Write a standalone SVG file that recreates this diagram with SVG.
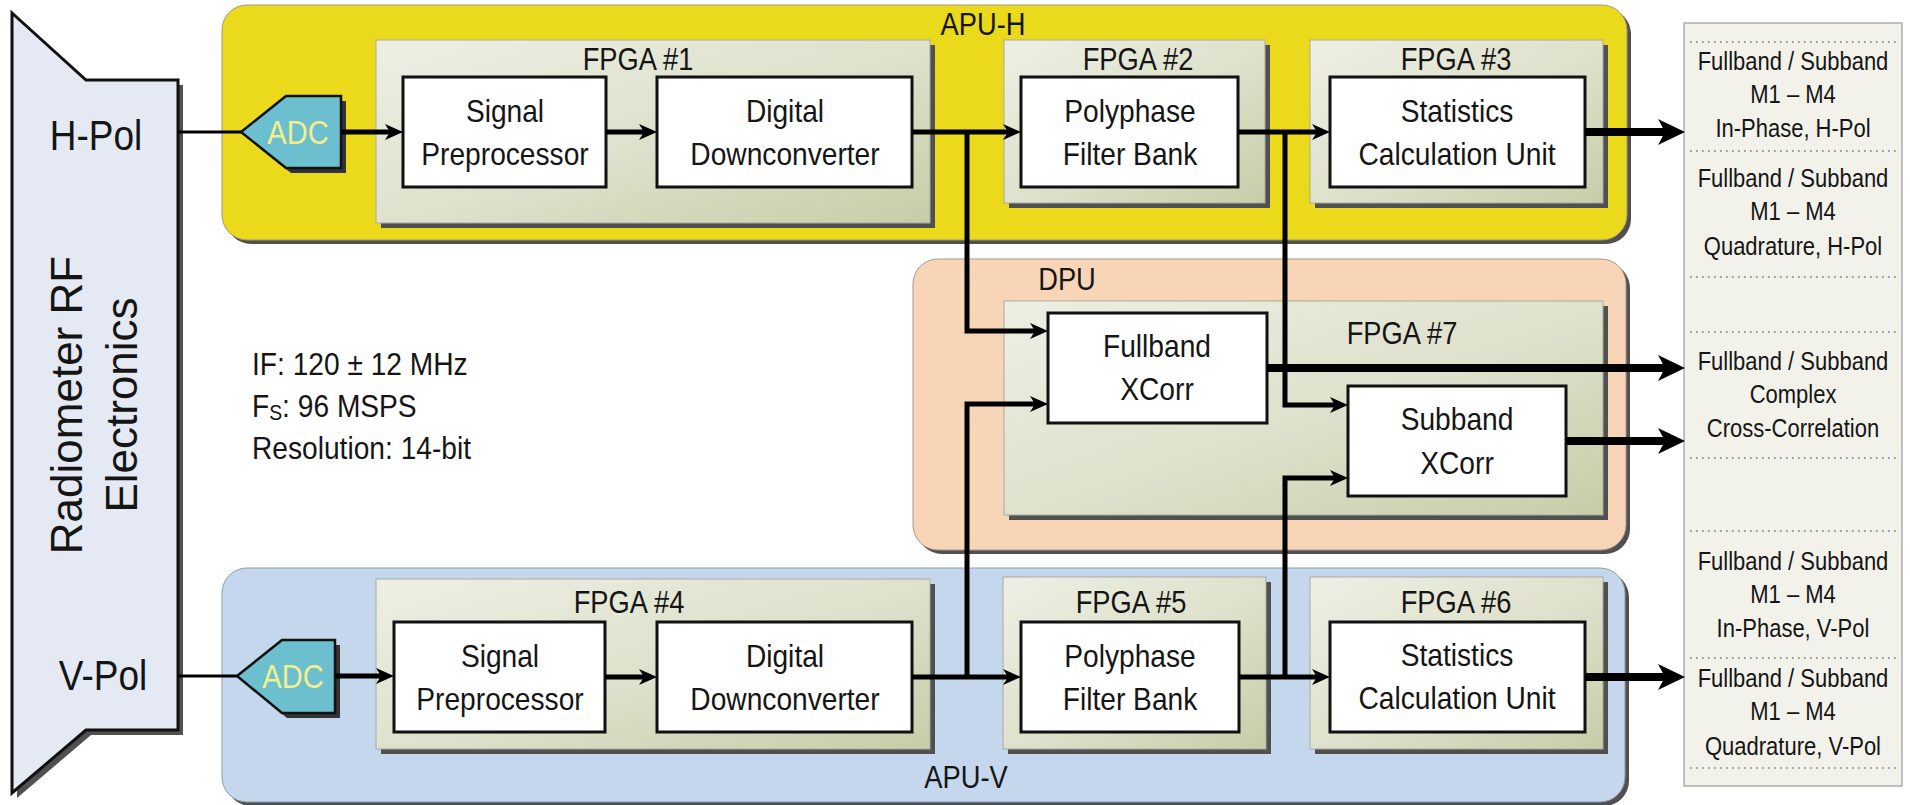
<svg xmlns="http://www.w3.org/2000/svg" width="1910" height="805" viewBox="0 0 1910 805">
<defs>
<style>
.t{font-family:"Liberation Sans",Arial,Helvetica,sans-serif;fill:#151515}
.m{text-anchor:middle}
.bx{font-size:32px}
.lb{font-size:31px}
.ot{font-size:25px}
.inner{fill:#fff;stroke:#111;stroke-width:3}
.fpga{fill:url(#gf);stroke:#a9aaa0;stroke-width:1}
.sh{fill:#505050}
.con{fill:none;stroke:#000;stroke-width:5}
.thk{fill:none;stroke:#000;stroke-width:8}
.thin{fill:none;stroke:#000;stroke-width:3}
.dot{stroke:#7a7a7a;stroke-width:1.6;stroke-dasharray:1.6 4.4}
.adc{fill:#6bbfcf;stroke:#111;stroke-width:2.5}
.adct{font-size:33px;fill:#f3ee8e}
</style>
<linearGradient id="gf" x1="0" y1="0" x2="1" y2="1">
<stop offset="0" stop-color="#eeefe4"/>
<stop offset="0.55" stop-color="#dde0ca"/>
<stop offset="1" stop-color="#c7cda8"/>
</linearGradient>
<marker id="ah" viewBox="0 -8 18 16" markerWidth="18" markerHeight="16" refX="8" refY="0" orient="auto" markerUnits="userSpaceOnUse">
<path d="M0,-8 L18,0 L0,8 L5,0 Z" fill="#000"/>
</marker>
<marker id="ahb" viewBox="0 -13 27 26" markerWidth="27" markerHeight="26" refX="13" refY="0" orient="auto" markerUnits="userSpaceOnUse">
<path d="M0,-13 L27,0 L0,13 L7,0 Z" fill="#000"/>
</marker>
</defs>
<rect width="1910" height="805" fill="#fff"/>

<g id="rf-electronics">
<polygon points="17,18 91,85 183,85 183,735 91,735 17,798" class="sh"/>
<polygon points="12,13 86,80 178,80 178,730 86,730 12,793" fill="#e4e9f4" stroke="#111" stroke-width="3"/>
<g transform="translate(0,405) rotate(-90)">
<text class="t m" x="0" y="82" font-size="44">Radiometer RF</text>
<text class="t m" x="0" y="137" font-size="44">Electronics</text>
</g>
<text class="t m" transform="translate(96,0) scale(0.88,1)" x="0" y="150" font-size="42">H-Pol</text>
<text class="t m" transform="translate(103,0) scale(0.88,1)" x="0" y="690" font-size="42">V-Pol</text>
</g>

<g id="apu-h">
<rect x="226" y="9" width="1405" height="235" rx="25" class="sh"/>
<rect x="222" y="5" width="1405" height="235" rx="25" fill="#ebd91c" stroke="#9d9a78" stroke-width="1"/>
<text class="t m lb" transform="translate(983,0) scale(0.88,1)" x="0" y="35">APU-H</text>
</g>
<g id="dpu">
<rect x="917" y="263" width="713" height="291" rx="25" class="sh"/>
<rect x="913" y="259" width="713" height="291" rx="25" fill="#f8d5b7" stroke="#a89a8c" stroke-width="1"/>
<text class="t m lb" transform="translate(1067,0) scale(0.88,1)" x="0" y="290">DPU</text>
</g>
<g id="apu-v">
<rect x="226" y="572" width="1403" height="234" rx="25" class="sh"/>
<rect x="222" y="568" width="1403" height="234" rx="25" fill="#c4d7ec" stroke="#8e9bab" stroke-width="1"/>
<text class="t m lb" transform="translate(966,0) scale(0.88,1)" x="0" y="788">APU-V</text>
</g>

<g id="fpga1">
<rect x="381" y="45" width="554" height="183" class="sh"/>
<rect x="376" y="40" width="554" height="183" class="fpga"/>
<text class="t m lb" transform="translate(638,0) scale(0.88,1)" x="0" y="70">FPGA #1</text>
</g>
<g id="fpga2">
<rect x="1009" y="45" width="261" height="163" class="sh"/>
<rect x="1004" y="40" width="261" height="163" class="fpga"/>
<text class="t m lb" transform="translate(1138,0) scale(0.88,1)" x="0" y="70">FPGA #2</text>
</g>
<g id="fpga3">
<rect x="1315" y="45" width="293" height="163" class="sh"/>
<rect x="1310" y="40" width="293" height="163" class="fpga"/>
<text class="t m lb" transform="translate(1456,0) scale(0.88,1)" x="0" y="70">FPGA #3</text>
</g>
<g id="fpga7">
<rect x="1009" y="306" width="599" height="214" class="sh"/>
<rect x="1004" y="301" width="599" height="214" class="fpga"/>
<text class="t m lb" transform="translate(1402,0) scale(0.88,1)" x="0" y="344">FPGA #7</text>
</g>
<g id="fpga4">
<rect x="381" y="584" width="554" height="170" class="sh"/>
<rect x="376" y="579" width="554" height="170" class="fpga"/>
<text class="t m lb" transform="translate(629,0) scale(0.88,1)" x="0" y="613">FPGA #4</text>
</g>
<g id="fpga5">
<rect x="1008" y="582" width="263" height="172" class="sh"/>
<rect x="1003" y="577" width="263" height="172" class="fpga"/>
<text class="t m lb" transform="translate(1131,0) scale(0.88,1)" x="0" y="613">FPGA #5</text>
</g>
<g id="fpga6">
<rect x="1315" y="582" width="293" height="172" class="sh"/>
<rect x="1310" y="577" width="293" height="172" class="fpga"/>
<text class="t m lb" transform="translate(1456,0) scale(0.88,1)" x="0" y="613">FPGA #6</text>
</g>

<g id="adc-h">
<polygon points="246,137 291,101 346,101 346,173 291,173" fill="#333"/>
<polygon points="241,132 286,96 341,96 341,168 286,168" class="adc"/>
<text class="t m adct" transform="translate(298,0) scale(0.88,1)" x="0" y="144">ADC</text>
</g>
<g id="adc-v">
<polygon points="242,681 287,645 340,645 340,718 287,718" fill="#333"/>
<polygon points="237,676 282,640 335,640 335,713 282,713" class="adc"/>
<text class="t m adct" transform="translate(293,0) scale(0.88,1)" x="0" y="688">ADC</text>
</g>

<g id="sp-h">
<rect x="403" y="77" width="203" height="110" class="inner"/>
<text class="t m bx" transform="translate(505,0) scale(0.88,1)" x="0" y="122">Signal</text>
<text class="t m bx" transform="translate(505,0) scale(0.88,1)" x="0" y="165">Preprocessor</text>
</g>
<g id="ddc-h">
<rect x="657" y="77" width="255" height="110" class="inner"/>
<text class="t m bx" transform="translate(785,0) scale(0.88,1)" x="0" y="122">Digital</text>
<text class="t m bx" transform="translate(785,0) scale(0.88,1)" x="0" y="165">Downconverter</text>
</g>
<g id="pfb-h">
<rect x="1021" y="77" width="217" height="110" class="inner"/>
<text class="t m bx" transform="translate(1130,0) scale(0.88,1)" x="0" y="122">Polyphase</text>
<text class="t m bx" transform="translate(1130,0) scale(0.88,1)" x="0" y="165">Filter Bank</text>
</g>
<g id="scu-h">
<rect x="1330" y="77" width="255" height="110" class="inner"/>
<text class="t m bx" transform="translate(1457,0) scale(0.88,1)" x="0" y="122">Statistics</text>
<text class="t m bx" transform="translate(1457,0) scale(0.88,1)" x="0" y="165">Calculation Unit</text>
</g>
<g id="fxc">
<rect x="1048" y="313" width="219" height="110" class="inner"/>
<text class="t m bx" transform="translate(1157,0) scale(0.88,1)" x="0" y="357">Fullband</text>
<text class="t m bx" transform="translate(1157,0) scale(0.88,1)" x="0" y="400">XCorr</text>
</g>
<g id="sxc">
<rect x="1348" y="386" width="218" height="110" class="inner"/>
<text class="t m bx" transform="translate(1457,0) scale(0.88,1)" x="0" y="430">Subband</text>
<text class="t m bx" transform="translate(1457,0) scale(0.88,1)" x="0" y="474">XCorr</text>
</g>
<g id="sp-v">
<rect x="394" y="622" width="211" height="110" class="inner"/>
<text class="t m bx" transform="translate(500,0) scale(0.88,1)" x="0" y="667">Signal</text>
<text class="t m bx" transform="translate(500,0) scale(0.88,1)" x="0" y="710">Preprocessor</text>
</g>
<g id="ddc-v">
<rect x="657" y="622" width="255" height="110" class="inner"/>
<text class="t m bx" transform="translate(785,0) scale(0.88,1)" x="0" y="667">Digital</text>
<text class="t m bx" transform="translate(785,0) scale(0.88,1)" x="0" y="710">Downconverter</text>
</g>
<g id="pfb-v">
<rect x="1021" y="622" width="218" height="110" class="inner"/>
<text class="t m bx" transform="translate(1130,0) scale(0.88,1)" x="0" y="667">Polyphase</text>
<text class="t m bx" transform="translate(1130,0) scale(0.88,1)" x="0" y="710">Filter Bank</text>
</g>
<g id="scu-v">
<rect x="1330" y="622" width="255" height="110" class="inner"/>
<text class="t m bx" transform="translate(1457,0) scale(0.88,1)" x="0" y="666">Statistics</text>
<text class="t m bx" transform="translate(1457,0) scale(0.88,1)" x="0" y="709">Calculation Unit</text>
</g>

<g id="adc-specs">
<text class="t bx" transform="translate(252,0) scale(0.88,1)" x="0" y="375">IF: 120 ± 12 MHz</text>
<text class="t bx" transform="translate(252,0) scale(0.88,1)" x="0" y="417">F<tspan font-size="22" dy="3">S</tspan><tspan dy="-3">: 96 MSPS</tspan></text>
<text class="t bx" transform="translate(252,0) scale(0.88,1)" x="0" y="459">Resolution: 14-bit</text>
</g>

<g id="outputs">
<rect x="1684" y="23" width="218" height="763" fill="#f2f2ea" stroke="#9a9a9a" stroke-width="1.2"/>
<line x1="1690" y1="42" x2="1898" y2="42" class="dot"/>
<line x1="1690" y1="151" x2="1898" y2="151" class="dot"/>
<line x1="1690" y1="277" x2="1898" y2="277" class="dot"/>
<line x1="1690" y1="332" x2="1898" y2="332" class="dot"/>
<line x1="1690" y1="458" x2="1898" y2="458" class="dot"/>
<line x1="1690" y1="531" x2="1898" y2="531" class="dot"/>
<line x1="1690" y1="658" x2="1898" y2="658" class="dot"/>
<line x1="1690" y1="768" x2="1898" y2="768" class="dot"/>
<g transform="translate(1793,0) scale(0.88,1)">
<text class="t m ot" x="0" y="70">Fullband / Subband</text>
<text class="t m ot" x="0" y="103">M1 – M4</text>
<text class="t m ot" x="0" y="137">In-Phase, H-Pol</text>
<text class="t m ot" x="0" y="187">Fullband / Subband</text>
<text class="t m ot" x="0" y="220">M1 – M4</text>
<text class="t m ot" x="0" y="255">Quadrature, H-Pol</text>
<text class="t m ot" x="0" y="370">Fullband / Subband</text>
<text class="t m ot" x="0" y="403">Complex</text>
<text class="t m ot" x="0" y="437">Cross-Correlation</text>
<text class="t m ot" x="0" y="570">Fullband / Subband</text>
<text class="t m ot" x="0" y="603">M1 – M4</text>
<text class="t m ot" x="0" y="637">In-Phase, V-Pol</text>
<text class="t m ot" x="0" y="687">Fullband / Subband</text>
<text class="t m ot" x="0" y="720">M1 – M4</text>
<text class="t m ot" x="0" y="755">Quadrature, V-Pol</text>
</g>
</g>

<g id="connectors">
<path class="thin" d="M178,132 H241"/>
<path class="thin" d="M178,676 H237"/>
<path class="con" d="M341,132 H393" marker-end="url(#ah)"/>
<path class="con" d="M606,132 H647" marker-end="url(#ah)"/>
<path class="con" d="M912,132 H1011" marker-end="url(#ah)"/>
<path class="con" d="M967,132 V331 H1038" marker-end="url(#ah)"/>
<path class="con" d="M1238,132 H1320" marker-end="url(#ah)"/>
<path class="con" d="M1285,132 V405 H1338" marker-end="url(#ah)"/>
<path class="con" d="M335,676 H384" marker-end="url(#ah)"/>
<path class="con" d="M605,677 H647" marker-end="url(#ah)"/>
<path class="con" d="M912,677 H1011" marker-end="url(#ah)"/>
<path class="con" d="M967,677 V404 H1038" marker-end="url(#ah)"/>
<path class="con" d="M1239,677 H1320" marker-end="url(#ah)"/>
<path class="con" d="M1285,677 V478 H1338" marker-end="url(#ah)"/>
<path class="thk" d="M1585,132 H1671" marker-end="url(#ahb)"/>
<path class="thk" d="M1267,368 H1671" marker-end="url(#ahb)"/>
<path class="thk" d="M1566,441 H1671" marker-end="url(#ahb)"/>
<path class="thk" d="M1585,677 H1671" marker-end="url(#ahb)"/>
</g>
</svg>
